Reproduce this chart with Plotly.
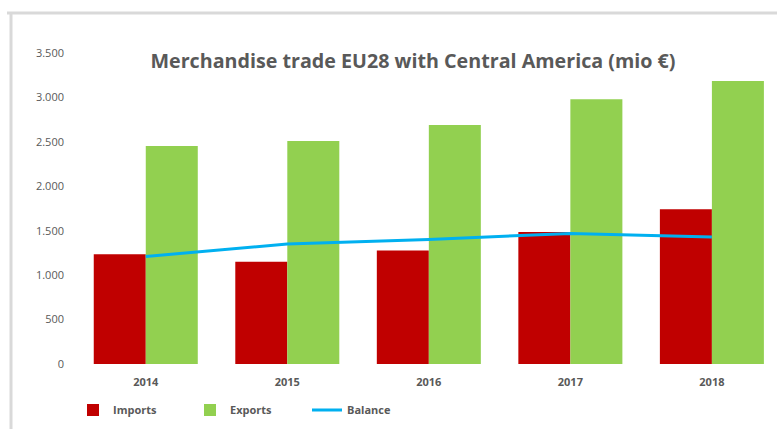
import plotly.graph_objects as go

years = ["2014", "2015", "2016", "2017", "2018"]
imports = [1234, 1150, 1276, 1486, 1742]
exports = [2452, 2510, 2690, 2980, 3185]
balance = [1210, 1350, 1400, 1470, 1430]
y_ticks = [0, 500, 1000, 1500, 2000, 2500, 3000, 3500]

W, H = 777, 429
ML, MR, MT, MB = 75, 0, 53, 65
pw = W - ML - MR
ph = H - MT - MB

def px_x(x):
    return (x - ML) / pw

def px_y(y):
    return (H - MB - y) / ph

GRAY = "#595959"
FONT = "Open Sans"

fig = go.Figure()
fig.add_trace(go.Bar(x=years, y=imports, name="Imports", marker_color="#c00000",
                     marker_line_width=0))
fig.add_trace(go.Bar(x=years, y=exports, name="Exports", marker_color="#92d050",
                     marker_line_width=0))
fig.add_trace(go.Scatter(x=years, y=balance, name="Balance", mode="lines",
                         line=dict(color="#00b0f0", width=3)))

fig.update_layout(
    width=W, height=H,
    margin=dict(l=ML, r=MR, t=MT, b=MB),
    paper_bgcolor="white", plot_bgcolor="white",
    separators=",.",
    barmode="group", bargap=0.265, bargroupgap=0,
    font=dict(family=FONT, color=GRAY, size=11),
    title=dict(text="<b>Merchandise trade EU28 with Central America (mio €)</b>",
               x=413 / W, xanchor="center", y=1 - 61 / H, yanchor="middle",
               font=dict(family=FONT, size=19.7, color=GRAY)),
    xaxis=dict(range=[-0.5, 4.46], showgrid=False, showline=False, zeroline=False,
               ticks="", tickfont=dict(family=FONT, size=11, color=GRAY, weight="bold"),
               ticklabelstandoff=10),
    yaxis=dict(range=[0, 3500], tickvals=y_ticks, tickformat=",d", showgrid=False,
               showline=False, zeroline=False, ticks="",
               tickfont=dict(family=FONT, size=11, color=GRAY),
               ticklabelstandoff=10),
    legend=dict(orientation="h", x=px_x(73), xanchor="left", y=px_y(410), yanchor="middle",
                font=dict(family=FONT, size=11, color=GRAY, weight="bold"),
                entrywidthmode="pixels", entrywidth=72, itemwidth=30,
                bgcolor="rgba(0,0,0,0)"),
    showlegend=True,
)

frame = "#d9d9d9"
fig.add_shape(type="line", xref="paper", yref="paper", x0=px_x(7), x1=px_x(W + 5),
              y0=px_y(13), y1=px_y(13), line=dict(color=frame, width=3))
fig.add_shape(type="line", xref="paper", yref="paper", x0=px_x(11), x1=px_x(11),
              y0=px_y(12), y1=px_y(H + 5), line=dict(color=frame, width=3))

fig.write_html("out.html", config={"displayModeBar": False},
               post_script="document.body.style.margin='0';document.body.style.overflow='hidden';")
